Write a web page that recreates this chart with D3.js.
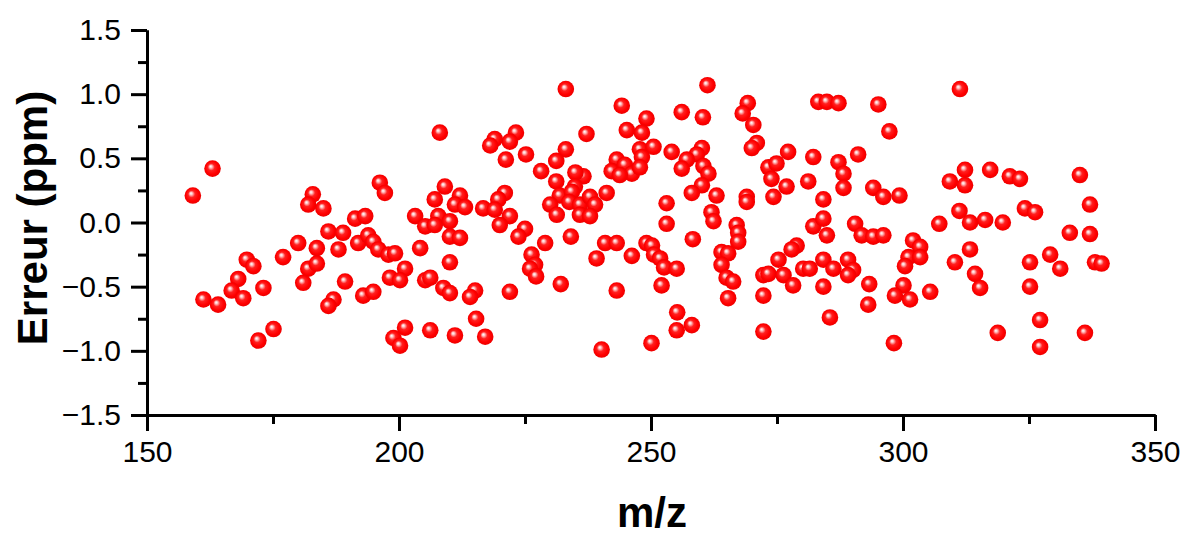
<!DOCTYPE html>
<html>
<head>
<meta charset="utf-8">
<script src="https://cdn.jsdelivr.net/npm/d3@7"></script>
<style>
  html, body { margin: 0; padding: 0; background: #fff; }
  svg { display: block; }
  text { font-family: Arial, "Liberation Sans", sans-serif; }
</style>
</head>
<body>
<svg id="chart" width="1184" height="535"></svg>
<script>
// ---- data ----
const mz = [
  163.0,159.1,182.9,182.0,180.0,177.0,183.7,169.8,171.1,168.1,
  182.0,183.7,181.0,173.1,166.8,169.1,161.2,164.1,175.1,172.1,
  208.1,196.2,197.2,209.1,207.1,212.1,211.1,213.1,216.7,185.0,
  191.3,193.3,203.2,205.2,207.8,207.1,210.1,210.1,212.1,186.0,
  188.9,188.0,191.9,193.9,194.9,195.9,197.9,199.2,204.2,210.1,
  201.2,198.2,200.2,205.2,206.2,189.3,208.8,210.1,215.1,214.1,
  192.9,194.9,187.0,186.0,201.2,198.9,200.2,206.2,211.1,215.3,
  217.1,
  233.1,244.2,249.1,237.2,245.2,248.2,223.2,222.0,219.0,218.1,
  221.2,225.2,233.1,231.2,228.2,243.2,247.8,250.5,248.2,242.2,
  244.8,246.2,247.8,243.8,231.2,236.6,235.0,234.9,241.2,231.9,
  234.3,230.0,233.8,235.9,237.9,238.9,231.3,235.9,237.9,221.0,
  219.7,219.0,222.0,220.0,225.0,223.7,229.0,234.1,240.9,243.2,
  239.2,246.2,249.1,250.2,250.6,251.8,252.6,226.3,227.0,226.0,
  227.2,222.0,232.1,243.2,252.1,240.2,250.1,
  261.2,256.1,260.3,269.2,268.2,270.3,283.2,284.9,271.0,270.0,
  254.1,260.1,259.1,257.1,256.1,260.4,261.4,260.1,258.1,263.0,
  262.0,262.4,253.1,253.1,258.3,273.3,274.9,277.2,273.9,276.9,
  274.3,281.2,282.2,269.0,269.0,284.2,282.2,284.2,284.9,267.0,
  267.3,267.3,264.0,265.3,264.0,265.0,266.3,265.3,278.9,277.9,
  275.3,272.3,273.3,276.3,278.2,272.3,280.2,281.5,284.2,284.2,
  255.1,255.2,255.1,258.1,272.3,285.5,
  287.2,295.1,311.3,297.3,287.2,291.1,288.2,288.2,294.1,296.1,
  299.3,312.3,309.3,312.3,317.3,290.5,291.8,294.1,296.1,311.2,
  313.3,316.3,319.8,307.2,302.0,303.4,301.1,303.4,300.4,286.2,
  289.1,290.1,289.1,293.3,300.1,298.4,301.4,305.4,313.3,310.3,
  314.3,315.3,293.1,298.2,318.8,
  321.2,323.2,335.1,337.1,324.2,326.2,333.1,337.1,325.2,329.2,
  331.2,338.1,339.4,325.2,327.2,336.1,327.2
];
const err = [
  0.42,0.21,0.22,0.14,-0.16,-0.27,-0.20,-0.29,-0.34,-0.44,
  -0.36,-0.32,-0.47,-0.51,-0.53,-0.59,-0.60,-0.64,-0.83,-0.92,
  0.70,0.31,0.23,0.28,0.18,0.21,0.14,0.12,0.11,0.11,
  0.03,0.05,0.05,-0.03,0.05,-0.02,0.01,-0.11,-0.12,-0.07,
  -0.08,-0.21,-0.16,-0.10,-0.15,-0.21,-0.25,-0.24,-0.20,-0.31,
  -0.36,-0.43,-0.45,-0.45,-0.43,-0.46,-0.51,-0.55,-0.53,-0.58,
  -0.57,-0.54,-0.60,-0.65,-0.82,-0.90,-0.96,-0.84,-0.88,-0.75,
  -0.89,
  1.04,0.91,0.81,0.69,0.72,0.70,0.70,0.63,0.65,0.60,
  0.49,0.53,0.57,0.48,0.40,0.49,0.57,0.59,0.51,0.40,
  0.45,0.38,0.43,0.37,0.32,0.36,0.39,0.28,0.23,0.21,
  0.24,0.14,0.16,0.14,0.20,0.14,0.06,0.06,0.05,0.23,
  0.18,0.10,0.05,-0.02,-0.05,-0.11,-0.16,-0.11,-0.16,-0.16,
  -0.28,-0.26,-0.16,-0.18,-0.25,-0.28,-0.35,-0.25,-0.33,-0.36,
  -0.42,-0.54,-0.48,-0.53,-0.49,-0.99,-0.94,
  1.07,0.86,0.82,0.93,0.85,0.76,0.94,0.94,0.62,0.58,
  0.55,0.58,0.53,0.49,0.42,0.44,0.38,0.29,0.23,0.21,
  0.08,0.01,0.15,-0.01,-0.13,0.43,0.46,0.55,0.34,0.28,
  0.20,0.32,0.51,0.20,0.16,0.18,-0.03,0.03,-0.10,-0.02,
  -0.08,-0.15,-0.23,-0.24,-0.33,-0.43,-0.46,-0.59,-0.18,-0.21,
  -0.29,-0.41,-0.40,-0.41,-0.49,-0.57,-0.36,-0.36,-0.29,-0.50,
  -0.36,-0.70,-0.84,-0.80,-0.85,-0.74,
  0.93,0.92,1.04,0.71,0.47,0.53,0.38,0.27,0.27,0.20,
  0.21,0.41,0.32,0.29,0.41,-0.01,-0.10,-0.11,-0.10,0.09,
  0.00,0.02,0.00,-0.01,-0.14,-0.19,-0.27,-0.27,-0.34,-0.36,
  -0.29,-0.37,-0.41,-0.48,-0.49,-0.57,-0.60,-0.54,-0.21,-0.31,
  -0.40,-0.51,-0.64,-0.94,-0.86,
  0.36,0.34,0.37,0.14,0.11,0.08,-0.08,-0.09,-0.31,-0.25,
  -0.36,-0.31,-0.32,-0.50,-0.76,-0.86,-0.97
];
const xTicks = [150, 200, 250, 300, 350];
const yTicks = [-1.5, -1.0, -0.5, 0.0, 0.5, 1.0, 1.5];
const xLabel = "m/z";
const yLabel = "Erreur (ppm)";

// ---- layout ----
const svg = d3.select("#chart");
const x = d3.scaleLinear().domain([150, 350]).range([147, 1155]);
const y = d3.scaleLinear().domain([-1.5, 1.5]).range([415, 30]);

const defs = svg.append("defs");
const grad = defs.append("radialGradient").attr("id", "ball")
  .attr("cx", "50%").attr("cy", "50%").attr("r", "55%")
  .attr("fx", "38%").attr("fy", "36%");
grad.append("stop").attr("offset", "0%").attr("stop-color", "#ffffff");
grad.append("stop").attr("offset", "14%").attr("stop-color", "#ffc8c8");
grad.append("stop").attr("offset", "38%").attr("stop-color", "#ff2020");
grad.append("stop").attr("offset", "70%").attr("stop-color", "#ff0000");
grad.append("stop").attr("offset", "100%").attr("stop-color", "#e60000");

// axes
const xAxis = d3.axisBottom(x).tickValues(xTicks).tickSize(16).tickSizeOuter(0).tickPadding(10)
  .tickFormat(d3.format("d"));
const xMinor = d3.axisBottom(x).tickValues([175, 225, 275, 325]).tickSize(9).tickSizeOuter(0).tickFormat("");
const yAxis = d3.axisLeft(y).tickValues(yTicks).tickSize(16).tickSizeOuter(0).tickPadding(10)
  .tickFormat(d3.format(".1f"));
const yMinor = d3.axisLeft(y).tickValues([-1.25, -0.75, -0.25, 0.25, 0.75, 1.25]).tickSize(9).tickSizeOuter(0).tickFormat("");

function styleAxis(g) {
  g.select(".domain").attr("stroke", "#000").attr("stroke-width", 3);
  g.selectAll(".tick line").attr("stroke", "#000").attr("stroke-width", 3);
  g.selectAll(".tick text").attr("fill", "#000").style("font-size", "30px")
    .style("font-family", "Arial, 'Liberation Sans', sans-serif");
}

svg.append("g").attr("transform", "translate(0,415)").call(xMinor).call(styleAxis);
svg.append("g").attr("transform", "translate(0,415)").call(xAxis).call(styleAxis);
svg.append("g").attr("transform", "translate(147,0)").call(yMinor).call(styleAxis);
svg.append("g").attr("transform", "translate(147,0)").call(yAxis).call(styleAxis);

// axis titles
svg.append("text").attr("x", 652).attr("y", 527).attr("text-anchor", "middle")
  .style("font-size", "42px").style("font-weight", "bold").text(xLabel);
svg.append("text").attr("transform", "translate(47,218) rotate(-90)").attr("text-anchor", "middle")
  .style("font-size", "42px").style("font-weight", "bold").text(yLabel);

// points
const pts = mz.map((m, i) => ({ m, e: err[i] }));
svg.append("g").selectAll("circle").data(pts).join("circle")
  .attr("cx", d => x(d.m)).attr("cy", d => y(d.e)).attr("r", 8.3)
  .attr("fill", "url(#ball)");
</script>
</body>
</html>
